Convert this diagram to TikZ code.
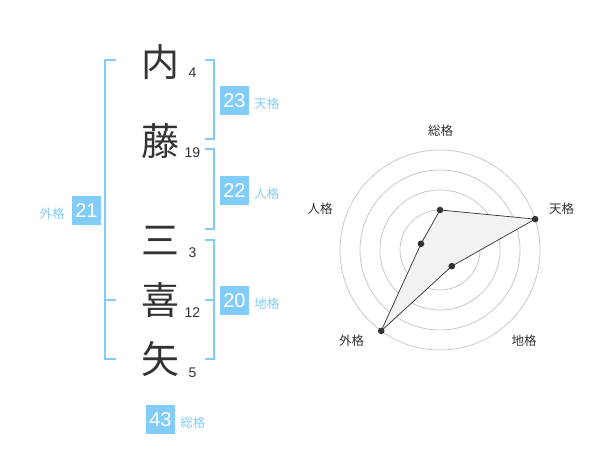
\documentclass[tikz,border=0pt]{standalone}
\usepackage{fontspec}
\setmainfont{Liberation Sans}
\newfontfamily\jp{Noto Sans CJK JP}
\usetikzlibrary{positioning}
\definecolor{kakublue}{HTML}{82CCFA}
\definecolor{inkgray}{HTML}{333333}
\definecolor{ringgray}{HTML}{C8C8C8}
\definecolor{webfill}{HTML}{F2F2F2}
\tikzset{kanji/.style={inner sep=0, text=inkgray, font=\jp\fontsize{38}{38}\selectfont}}
\tikzset{strokes/.style={inner sep=0, text=inkgray, font=\fontsize{14}{14}\selectfont}}
\tikzset{score/.style={fill=kakublue, text=white, minimum size=29pt, inner sep=0, font=\fontsize{20}{20}\selectfont}}
\tikzset{kaku/.style={inner sep=0, text=kakublue, font=\jp\fontsize{12.5}{12.5}\selectfont}}
\tikzset{axislbl/.style={inner sep=0, text=inkgray, font=\jp\fontsize{12.5}{12.5}\selectfont}}
\tikzset{brk/.style={draw=kakublue, line width=2pt}}
\tikzset{ring/.style={draw=ringgray, line width=0.8pt}}
\tikzset{web/.style={draw=inkgray, line width=0.7pt, fill=webfill}}
\begin{document}
\begin{tikzpicture}[x=1pt, y=-1pt]
	\useasboundingbox (0,0) rectangle (600,470);
	% name
	\node[kanji] (k1) at (160,62) {内};
	\node[kanji] (k2) at (160,141) {藤};
	\node[kanji] (k3) at (160,241) {三};
	\node[kanji] (k4) at (160,300) {喜};
	\node[kanji] (k5) at (160,359) {矢};
	\node[strokes] (s1) at (192.5,72.5) {4};
	\node[strokes] (s2) at (192.5,152.5) {19};
	\node[strokes] (s3) at (192.5,252.5) {3};
	\node[strokes] (s4) at (192.5,312.5) {12};
	\node[strokes] (s5) at (192.5,372.5) {5};
%
	\draw[brk] (205,60) -| (214,139) -- (205,139);
	\draw[brk] (205,149) -| (214,229) -- (205,229);
	\draw[brk] (205,240) -| (214,359) -- (205,359);
	\draw[brk] (205,300) -- (214,300);
	\draw[brk] (116,60) -| (105,359) -- (116,359);
	\draw[brk] (105,300) -- (116,300);
%
	\node[score] (ten) at (234.5,100.5) {23};
	\node[kaku, right=5pt of ten, yshift=-3.5pt] (tenl) {天格};
	\node[score] (jin) at (234.5,190.5) {22};
	\node[kaku, right=5pt of jin, yshift=-3.5pt] (jinl) {人格};
	\node[score] (chi) at (234.5,300.5) {20};
	\node[kaku, right=5pt of chi, yshift=-3.5pt] (chil) {地格};
	\node[score] (gai) at (86.5,210.5) {21};
	\node[kaku, left=7pt of gai, yshift=-3.5pt] (gail) {外格};
	\node[score] (sou) at (160.5,419.5) {43};
	\node[kaku, right=5pt of sou, yshift=-3pt] (soul) {総格};
	% radar
	\begin{scope}[shift={(440,250)}, y=1pt]
		\foreach \r in {20,40,60,80,100} \draw[ring] (0,0) circle (\r pt);
		\fill[ringgray] (0,0) circle (3pt);
		\coordinate (rsou) at (90:40);
		\coordinate (rten) at (18:100);
		\coordinate (rchi) at (-54:20);
		\coordinate (rgai) at (-126:100);
		\coordinate (rjin) at (162:20);
		\draw[web] (rsou) -- (rten) -- (rchi) -- (rgai) -- (rjin) -- cycle;
		\foreach \p in {rsou,rten,rchi,rgai,rjin} \fill[inkgray] (\p) circle (3.3pt);
		\node[axislbl] (asou) at (0.7,119.3) {総格};
		\node[axislbl] (aten) at (121.7,41.7) {天格};
		\node[axislbl] (achi) at (84,-90.7) {地格};
		\node[axislbl] (agai) at (-88.3,-90.7) {外格};
		\node[axislbl] (ajin) at (-120,41.7) {人格};
	\end{scope}
\end{tikzpicture}
\end{document}
